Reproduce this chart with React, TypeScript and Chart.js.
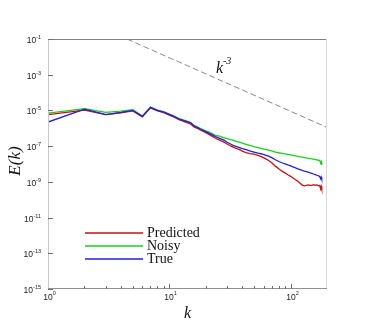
import React, { useEffect, useRef } from "react";
import { Chart, registerables } from "chart.js";

Chart.register(...registerables);

// Wavenumbers k
const kValues = [
  1, 2, 3, 4, 5, 6, 7, 8, 9, 10, 11, 12, 13, 14, 15, 16, 17, 18, 20, 22, 24, 26, 28, 30, 32, 34, 36, 38, 40,
  43, 46, 50, 54, 58, 62, 66, 70, 75, 80, 85, 90, 95, 100, 105, 110, 115, 120, 125, 130, 135, 140, 145, 150,
  155, 160, 165, 170, 174, 177, 179, 181,
];

// log10 E(k)
const predictedLog = [
  -5.24, -4.98, -5.23, -5.13, -5.03, -5.36, -4.86, -5.03, -5.12, -5.26, -5.38, -5.52, -5.6, -5.68, -5.76, -5.92,
  -6.0, -6.09, -6.24, -6.4, -6.56, -6.66, -6.76, -6.88, -6.99, -7.07, -7.14, -7.2, -7.28, -7.36, -7.42, -7.45,
  -7.52, -7.6, -7.7, -7.8, -7.93, -8.12, -8.26, -8.4, -8.5, -8.6, -8.69, -8.78, -8.88, -8.97, -9.08, -9.18,
  -9.22, -9.2, -9.17, -9.2, -9.2, -9.16, -9.19, -9.17, -9.22, -9.2, -9.38, -9.25, -9.4,
];
const noisyLog = [
  -5.15, -4.9, -5.11, -5.04, -4.96, -5.31, -4.82, -4.98, -5.07, -5.2, -5.32, -5.45, -5.53, -5.6, -5.68, -5.84,
  -5.92, -6.0, -6.14, -6.26, -6.4, -6.44, -6.52, -6.58, -6.64, -6.68, -6.75, -6.78, -6.83, -6.9, -6.95, -7.03,
  -7.08, -7.14, -7.18, -7.22, -7.27, -7.33, -7.37, -7.4, -7.43, -7.46, -7.49, -7.52, -7.55, -7.57, -7.6, -7.62,
  -7.64, -7.66, -7.68, -7.7, -7.71, -7.73, -7.75, -7.77, -7.79, -7.81, -7.95, -7.86, -8.05,
];
const trueLog = [
  -5.65, -4.93, -5.23, -5.11, -5.0, -5.33, -4.83, -5.0, -5.09, -5.22, -5.35, -5.48, -5.56, -5.63, -5.7, -5.86,
  -5.95, -6.04, -6.19, -6.33, -6.47, -6.56, -6.65, -6.78, -6.88, -6.97, -7.03, -7.08, -7.14, -7.2, -7.26, -7.33,
  -7.39, -7.44, -7.5, -7.56, -7.64, -7.76, -7.86, -7.93, -7.99, -8.05, -8.1, -8.16, -8.22, -8.27, -8.31, -8.36,
  -8.4, -8.43, -8.46, -8.5, -8.52, -8.56, -8.59, -8.63, -8.66, -8.7, -8.82, -8.73, -8.85,
];

// Reference k^-3 line end points
const refLineK = [4.48, 200];
const refLineE = [0.1, 1.12e-6];

const xTickExps = [0, 1, 2];
const xMinorTicks = [2, 3, 4, 5, 6, 7, 8, 9, 20, 30, 40, 50, 60, 70, 80, 90];
const yTickExps = [-1, -3, -5, -7, -9, -11, -13, -15];

const seriesNames = ["Predicted", "Noisy", "True"];
const seriesColors = ["#cc1010", "#18d018", "#2020e0"];

const toPoints = (logs: number[]) => kValues.map((k, i) => ({ x: k, y: Math.pow(10, logs[i]) }));

const overlay = {
  id: "overlay",
  afterDraw(chart: any) {
    const ctx = chart.ctx as CanvasRenderingContext2D;
    const xs = chart.scales.x;
    const ys = chart.scales.y;
    const { left, right, top, bottom } = chart.chartArea;
    ctx.save();
    const seg = (x1: number, y1: number, x2: number, y2: number, c: string) => {
      ctx.strokeStyle = c;
      ctx.lineWidth = 1;
      ctx.beginPath();
      ctx.moveTo(x1, y1);
      ctx.lineTo(x2, y2);
      ctx.stroke();
    };
    // frame
    seg(left, top + 0.5, right, top + 0.5, "#808080");
    seg(right - 0.5, top, right - 0.5, bottom, "#d8d8d8");
    seg(left + 0.5, top, left + 0.5, bottom, "#c8c8c8");
    seg(left, bottom - 0.5, right, bottom - 0.5, "#909090");

    const sans = "Liberation Sans, Arial, sans-serif";
    ctx.fillStyle = "#222";
    // y ticks + labels
    yTickExps.forEach((e) => {
      const y = Math.round(ys.getPixelForValue(Math.pow(10, e))) + 0.5;
      seg(left, y, left + 5, y, "#707070");
      ctx.font = `5.5px ${sans}`;
      const sup = String(e);
      const sw = ctx.measureText(sup).width;
      ctx.font = `8.5px ${sans}`;
      const bw = ctx.measureText("10").width;
      const rx = left - 7;
      ctx.textAlign = "left";
      ctx.textBaseline = "alphabetic";
      ctx.fillText("10", rx - sw - bw, y + 3);
      ctx.font = `5.5px ${sans}`;
      ctx.fillText(sup, rx - sw, y - 0.5);
    });
    // x ticks
    xTickExps.forEach((e) => {
      const x = Math.round(xs.getPixelForValue(Math.pow(10, e))) + 0.5;
      if (e > 0) seg(x, bottom, x, bottom - 5, "#707070");
      ctx.font = `8.5px ${sans}`;
      const bw = ctx.measureText("10").width;
      ctx.font = `5.5px ${sans}`;
      const sup = String(e);
      const sw = ctx.measureText(sup).width;
      const sx = x - (bw + sw) / 2 + 1;
      ctx.font = `8.5px ${sans}`;
      ctx.textAlign = "left";
      ctx.fillText("10", sx, bottom + 11);
      ctx.font = `5.5px ${sans}`;
      ctx.fillText(sup, sx + bw, bottom + 6);
    });
    xMinorTicks.forEach((k) => {
      const x = Math.round(xs.getPixelForValue(k)) + 0.5;
      seg(x, bottom, x, bottom - 3, "#707070");
    });

    // axis titles
    const serif = "Liberation Serif, Times New Roman, serif";
    ctx.fillStyle = "#111";
    ctx.font = `italic 16px ${serif}`;
    ctx.textAlign = "center";
    ctx.textBaseline = "middle";
    ctx.fillText("k", (left + right) / 2, 314);
    ctx.save();
    ctx.translate(16, 161);
    ctx.rotate(-Math.PI / 2);
    ctx.font = `italic 17px ${serif}`;
    ctx.fillText("E(k)", 0, 0);
    ctx.restore();

    // k^-3 annotation
    ctx.textAlign = "left";
    ctx.textBaseline = "alphabetic";
    ctx.font = `italic 16px ${serif}`;
    ctx.fillText("k", 216, 73);
    ctx.font = `italic 10px ${serif}`;
    ctx.fillText("-3", 223, 64);

    // legend
    const ly = [233, 246, 259];
    seriesNames.forEach((name, i) => {
      ctx.strokeStyle = seriesColors[i];
      ctx.lineWidth = 1.5;
      ctx.beginPath();
      ctx.moveTo(85, ly[i]);
      ctx.lineTo(143, ly[i]);
      ctx.stroke();
      ctx.fillStyle = "#111";
      ctx.font = `14px ${serif}`;
      ctx.textBaseline = "middle";
      ctx.fillText(name, 147, ly[i] + 0.5);
    });
    ctx.restore();
  },
};

export default function App() {
  const ref = useRef<HTMLCanvasElement | null>(null);
  useEffect(() => {
    if (!ref.current) return;
    const chart = new Chart(ref.current, {
      type: "line",
      data: {
        datasets: [
          { label: seriesNames[2], data: toPoints(trueLog), borderColor: seriesColors[2], borderWidth: 1.3 },
          { label: seriesNames[0], data: toPoints(predictedLog), borderColor: seriesColors[0], borderWidth: 1.3 },
          { label: seriesNames[1], data: toPoints(noisyLog), borderColor: seriesColors[1], borderWidth: 1.3 },
          {
            label: "k^-3",
            data: refLineK.map((k, i) => ({ x: k, y: refLineE[i] })),
            borderColor: "#8a8a8a",
            borderWidth: 1,
            borderDash: [6, 3],
          },
        ],
      },
      options: {
        animation: false,
        responsive: false,
        devicePixelRatio: 1,
        layout: { padding: { left: 48, right: 39, top: 39, bottom: 36 } },
        plugins: { legend: { display: false }, tooltip: { enabled: false } },
        elements: { point: { radius: 0 }, line: { tension: 0 } },
        scales: {
          x: { type: "logarithmic", min: 1, max: 200, bounds: "data", display: false },
          y: { type: "logarithmic", min: 1e-15, max: 1e-1, bounds: "data", display: false },
        },
      },
      plugins: [overlay],
    } as any);
    return () => chart.destroy();
  }, []);
  return (
    <div style={{ position: "fixed", left: 0, top: 0, width: 366, height: 325, background: "#fff" }}>
      <canvas ref={ref} width={366} height={325} style={{ display: "block" }} />
    </div>
  );
}
